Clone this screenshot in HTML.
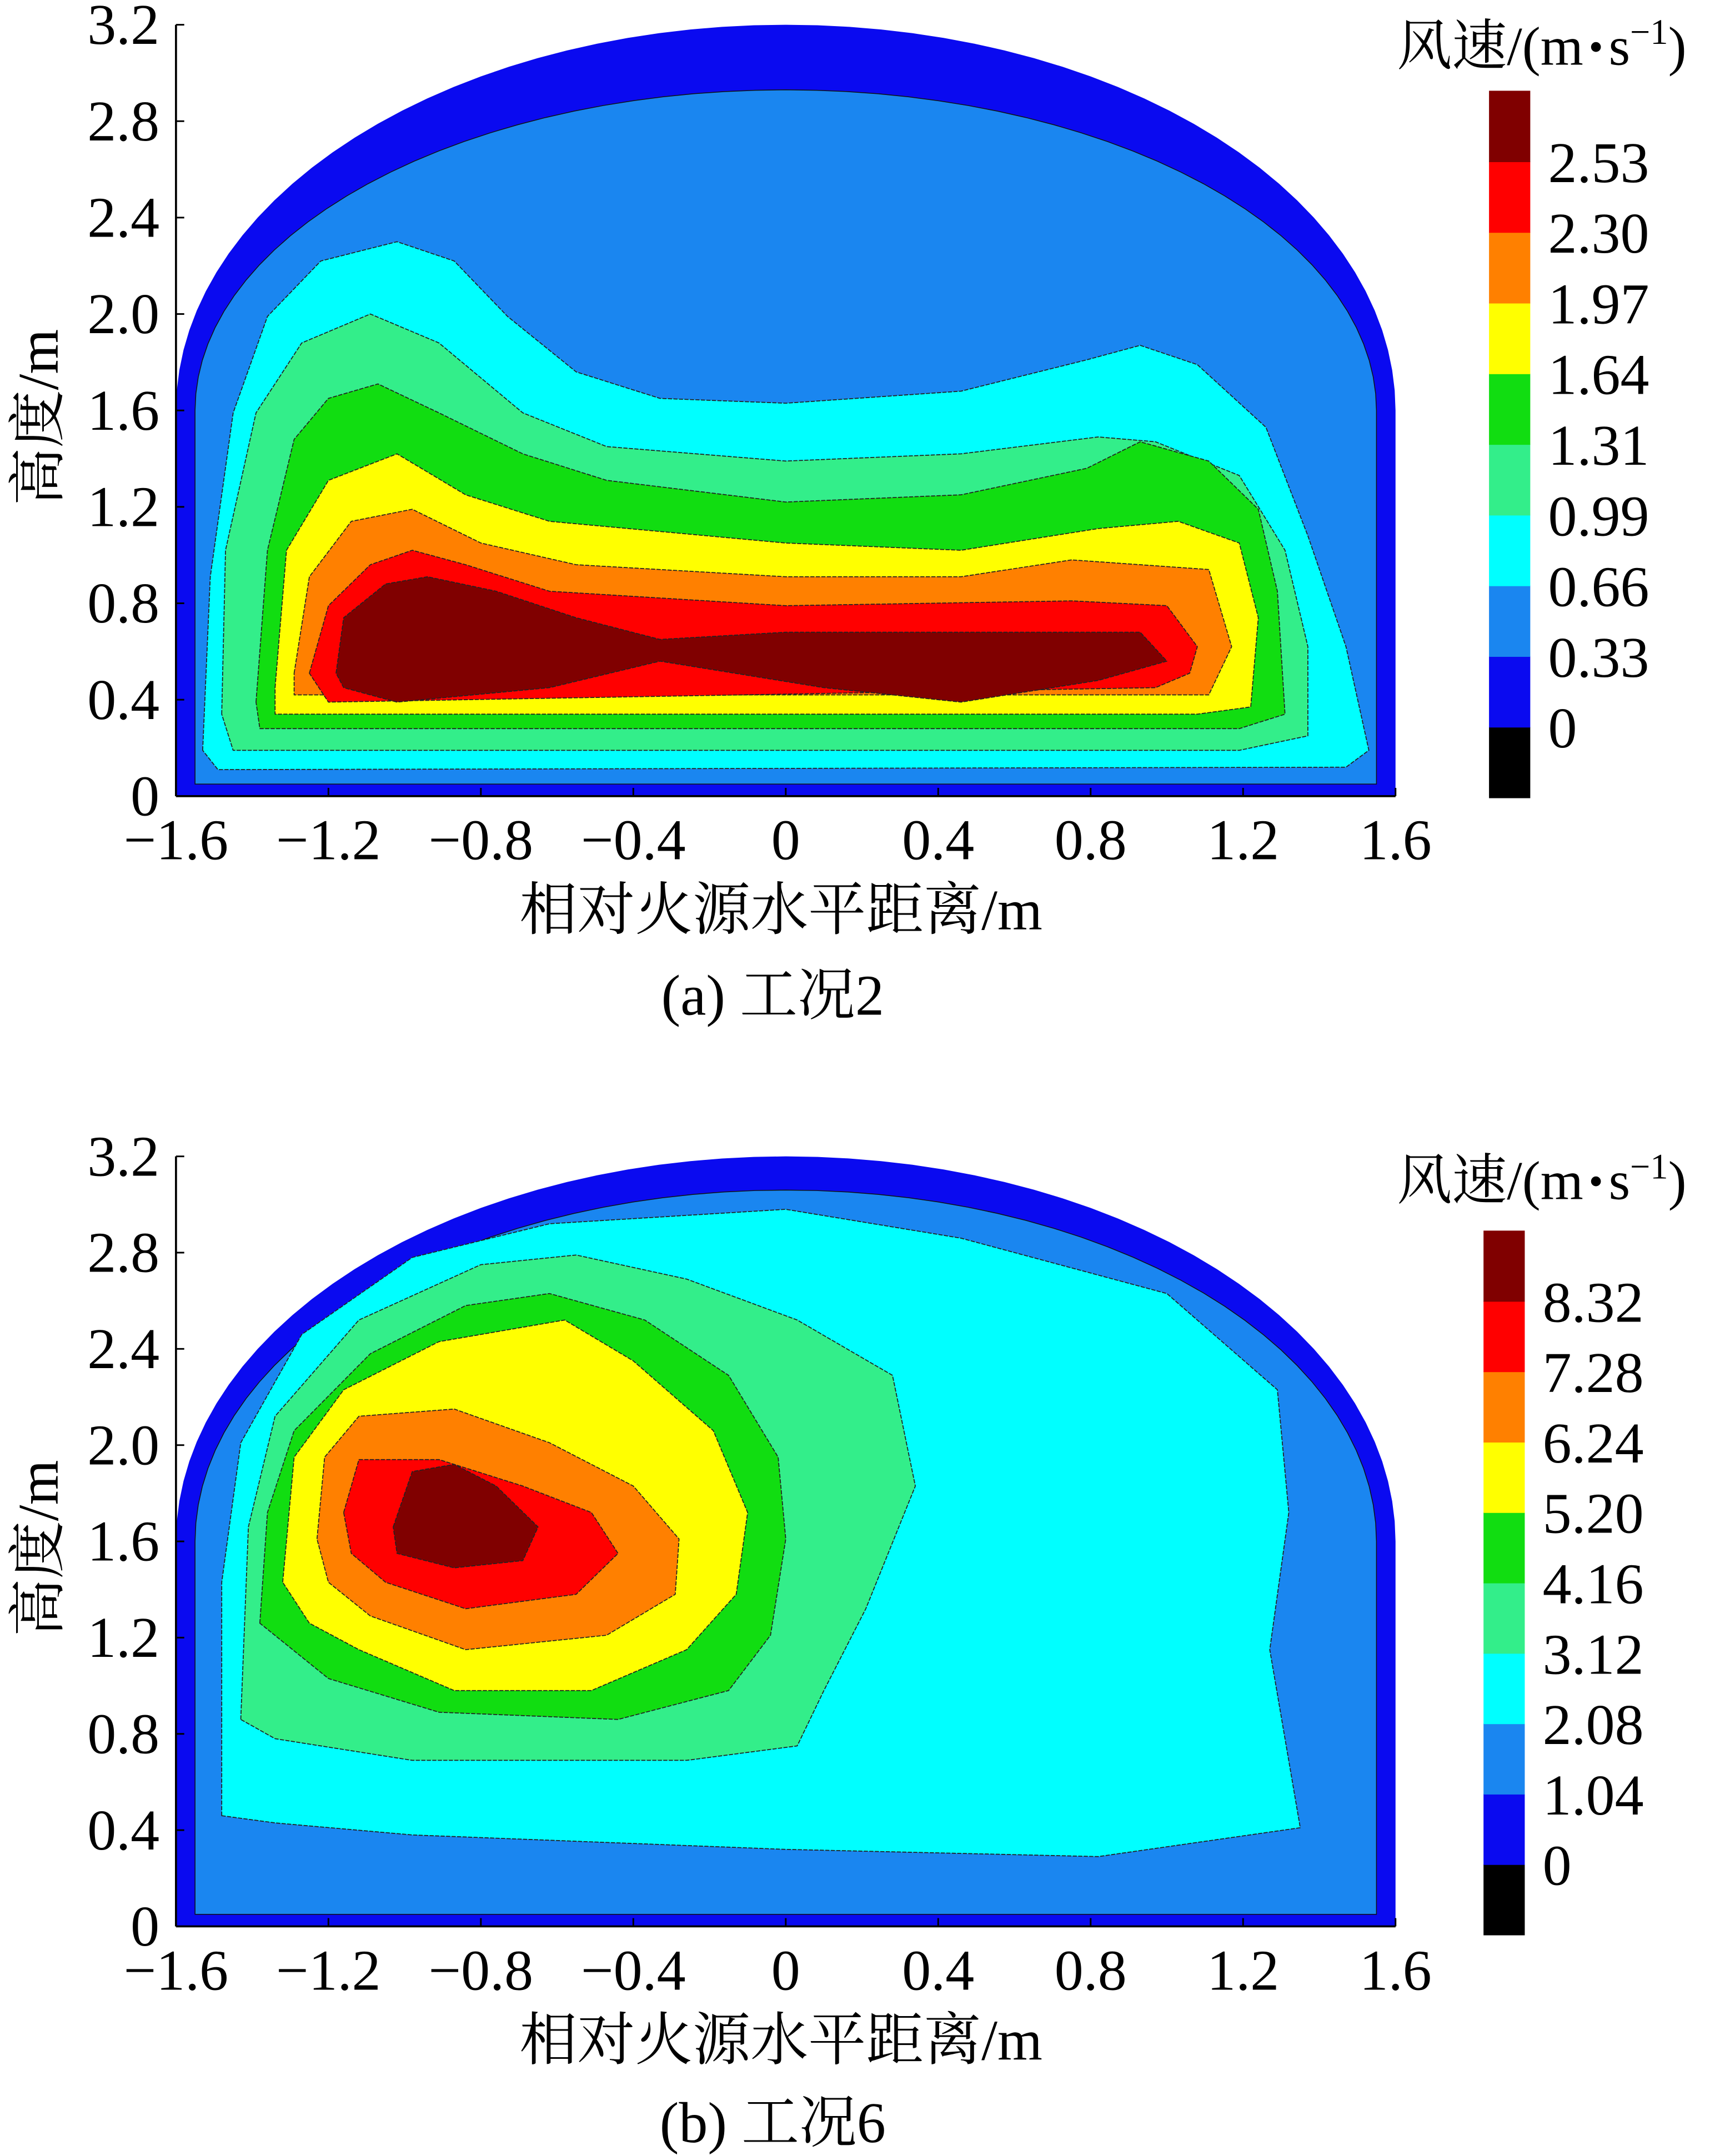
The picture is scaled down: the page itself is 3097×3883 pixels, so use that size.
<!DOCTYPE html>
<html><head><meta charset="utf-8"><style>
html,body{margin:0;padding:0;background:#fff}
svg{display:block}
text{font-family:"Liberation Serif","Noto Serif CJK SC",serif;fill:#000}
</style></head><body>
<svg id="fig" width="3097" height="3883" viewBox="0 0 1251 1568" preserveAspectRatio="none" xmlns="http://www.w3.org/2000/svg"></svg>
<script>
// ---------- data ----------
const xTicks = [-1.6,-1.2,-0.8,-0.4,0,0.4,0.8,1.2,1.6];
const xTickLabels = ["\u22121.6","\u22121.2","\u22120.8","\u22120.4","0","0.4","0.8","1.2","1.6"];
const yTicks = [0,0.4,0.8,1.2,1.6,2.0,2.4,2.8,3.2];
const yTickLabels = ["0","0.4","0.8","1.2","1.6","2.0","2.4","2.8","3.2"];
const colors = ["#000000","#0a0af0","#1a86f0","#00ffff","#33ee8a","#11dd11","#ffff00","#ff8000","#ff0000","#800000"];
const levelsA = ["0","0.33","0.66","0.99","1.31","1.64","1.97","2.30","2.53"];
const levelsB = ["0","1.04","2.08","3.12","4.16","5.20","6.24","7.28","8.32"];
// contour regions, chart (a)
const a_cyan = [[-1.53,0.19],[-1.51,0.91],[-1.45,1.59],[-1.36,1.99],[-1.22,2.22],[-1.02,2.30],[-0.87,2.22],[-0.73,1.99],[-0.55,1.76],[-0.33,1.65],[0,1.63],[0.46,1.68],[0.79,1.81],[0.93,1.87],[1.08,1.79],[1.26,1.53],[1.37,1.08],[1.47,0.62],[1.53,0.19],[1.47,0.12],[-1.49,0.11]];
const a_lgreen = [[-1.48,0.34],[-1.47,1.02],[-1.39,1.59],[-1.27,1.88],[-1.09,2.0],[-0.91,1.88],[-0.69,1.59],[-0.47,1.45],[0,1.39],[0.46,1.42],[0.82,1.49],[0.97,1.47],[1.19,1.33],[1.31,1.02],[1.37,0.62],[1.37,0.25],[1.19,0.19],[-1.45,0.19]];
const a_green = [[-1.39,0.39],[-1.36,1.02],[-1.29,1.48],[-1.20,1.65],[-1.07,1.71],[-0.91,1.59],[-0.69,1.42],[-0.47,1.31],[0,1.22],[0.46,1.25],[0.79,1.36],[0.93,1.47],[1.11,1.39],[1.24,1.19],[1.29,0.85],[1.31,0.34],[1.19,0.28],[-1.38,0.28]];
const a_yellow = [[-1.34,0.45],[-1.31,1.02],[-1.20,1.31],[-1.02,1.42],[-0.84,1.25],[-0.62,1.14],[0,1.05],[0.46,1.02],[0.82,1.11],[1.03,1.14],[1.19,1.05],[1.24,0.74],[1.22,0.37],[1.08,0.34],[-1.34,0.34]];
const a_orange = [[-1.29,0.51],[-1.25,0.91],[-1.14,1.14],[-0.98,1.19],[-0.80,1.05],[-0.55,0.96],[0,0.91],[0.46,0.91],[0.75,0.98],[1.11,0.94],[1.17,0.62],[1.11,0.42],[-1.29,0.42]];
const a_red = [[-1.25,0.51],[-1.20,0.79],[-1.09,0.96],[-0.98,1.02],[-0.84,0.96],[-0.62,0.85],[0,0.79],[0.75,0.81],[1.0,0.79],[1.08,0.62],[1.06,0.51],[0.97,0.45],[-1.20,0.39]];
const a_dred = [[-1.18,0.51],[-1.16,0.74],[-1.05,0.88],[-0.94,0.91],[-0.76,0.85],[-0.55,0.74],[-0.33,0.65],[0,0.68],[0.46,0.68],[0.93,0.68],[1.0,0.56],[0.82,0.48],[0.46,0.39],[0.10,0.45],[-0.33,0.56],[-0.62,0.45],[-1.02,0.39],[-1.16,0.45]];
// chart (b)
const b_cyan = [[-1.48,0.46],[-1.48,1.43],[-1.43,2.01],[-1.27,2.46],[-0.98,2.78],[-0.62,2.92],[0,2.98],[0.46,2.86],[1.0,2.63],[1.29,2.23],[1.32,1.72],[1.27,1.15],[1.35,0.41],[0.82,0.29],[0,0.32],[-0.98,0.38],[-1.34,0.43]];
const b_lgreen = [[-1.43,0.86],[-1.41,1.66],[-1.34,2.12],[-1.12,2.52],[-0.80,2.75],[-0.55,2.79],[-0.26,2.69],[0.03,2.52],[0.28,2.29],[0.34,1.83],[0.21,1.32],[0.10,0.98],[0.03,0.75],[-0.26,0.69],[-0.98,0.69],[-1.34,0.78]];
const b_green = [[-1.38,1.26],[-1.36,1.72],[-1.29,2.06],[-1.09,2.38],[-0.84,2.58],[-0.62,2.63],[-0.37,2.52],[-0.15,2.29],[-0.02,1.95],[0,1.61],[-0.04,1.21],[-0.15,0.98],[-0.44,0.86],[-0.91,0.89],[-1.20,1.03]];
const b_yellow = [[-1.32,1.43],[-1.29,1.95],[-1.16,2.23],[-0.91,2.43],[-0.58,2.52],[-0.40,2.35],[-0.19,2.06],[-0.10,1.72],[-0.13,1.38],[-0.26,1.15],[-0.51,0.98],[-0.87,0.98],[-1.12,1.15],[-1.25,1.26]];
const b_orange = [[-1.23,1.61],[-1.21,1.95],[-1.12,2.12],[-0.87,2.15],[-0.62,2.01],[-0.40,1.83],[-0.28,1.61],[-0.29,1.38],[-0.47,1.21],[-0.84,1.15],[-1.09,1.29],[-1.20,1.43]];
const b_red = [[-1.16,1.72],[-1.12,1.94],[-0.91,1.94],[-0.69,1.83],[-0.51,1.72],[-0.44,1.55],[-0.55,1.38],[-0.84,1.32],[-1.05,1.43],[-1.14,1.55]];
const b_dred = [[-1.03,1.66],[-0.98,1.89],[-0.87,1.92],[-0.76,1.83],[-0.65,1.66],[-0.69,1.52],[-0.87,1.49],[-1.02,1.55]];
const regionsA = [[3,a_cyan],[4,a_lgreen],[5,a_green],[6,a_yellow],[7,a_orange],[8,a_red],[9,a_dred]];
const regionsB = [[3,b_cyan],[4,b_lgreen],[5,b_green],[6,b_yellow],[7,b_orange],[8,b_red],[9,b_dred]];

// ---------- drawing ----------
const NS="http://www.w3.org/2000/svg";
const svg=document.getElementById('fig');
function el(tag,attrs,parent){const e=document.createElementNS(NS,tag);for(const k in attrs)e.setAttribute(k,attrs[k]);(parent||svg).appendChild(e);return e;}
function makeAxes(y0px,y1px){const x0=128,x1=1015;return{sx:v=>x0+(v+1.6)/3.2*(x1-x0),sy:v=>y0px-(v/3.2)*(y0px-y1px),x0,x1,y0px,y1px};}
function polyPath(pts,ax){return 'M'+pts.map(p=>ax.sx(p[0])+','+ax.sy(p[1])).join(' L')+'Z';}
function tunnel(ax,hw,bottom,top){const wall=1.6;let d=`M${ax.sx(-hw)},${ax.sy(bottom)} L${ax.sx(-hw)},${ax.sy(wall)}`;
 for(let i=0;i<=60;i++){const a=Math.PI-i*Math.PI/60;const x=hw*Math.cos(a),y=wall+(top-wall)*Math.sin(a);d+=` L${ax.sx(x)},${ax.sy(y)}`;}
 d+=` L${ax.sx(hw)},${ax.sy(bottom)} Z`;return d;}
function chart(g,ax,regions,midTop,levels,cb,title,caption){
 const outer=el('path',{d:tunnel(ax,1.6,0,3.2),fill:colors[1]},g);
 
 
 const mid=el('path',{d:tunnel(ax,1.55,0.05,midTop),fill:colors[2],stroke:'#111','stroke-width':0.6},g);
 
 
 regions.forEach(([ci,pts])=>{const p=el('path',{d:polyPath(pts,ax),fill:colors[ci],stroke:'#222','stroke-width':0.7,'stroke-dasharray':'3,1','stroke-linejoin':'round'},g);
  
  });
 el('line',{x1:ax.x0,y1:ax.y0px,x2:ax.x0,y2:ax.y1px,stroke:'#000','stroke-width':1.5},g);
 el('line',{x1:ax.x0,y1:ax.y0px,x2:ax.x1,y2:ax.y0px,stroke:'#000','stroke-width':1.5},g);
 xTicks.forEach((v,i)=>{el('line',{x1:ax.sx(v),y1:ax.y0px,x2:ax.sx(v),y2:ax.y0px-6,stroke:'#000','stroke-width':1.2},g);
  const t=el('text',{x:ax.sx(v),y:ax.y0px+46,'font-size':42,'text-anchor':'middle'},g);t.textContent=xTickLabels[i];
  
  });
 yTicks.forEach((v,i)=>{el('line',{x1:ax.x0,y1:ax.sy(v),x2:ax.x0+6,y2:ax.sy(v),stroke:'#000','stroke-width':1.2},g);
  const t=el('text',{x:116,y:ax.sy(v)+14,'font-size':42,'text-anchor':'end'},g);t.textContent=yTickLabels[i];
  
  });
 const yt=el('text',{x:0,y:0,'font-size':42,'text-anchor':'middle',transform:`translate(42,${(ax.y0px+ax.y1px)/2+5}) rotate(-90)`},g);yt.textContent='高度/m';
 
 
 const xt=el('text',{x:568,y:ax.y0px+97,'font-size':42,'text-anchor':'middle'},g);xt.textContent='相对火源水平距离/m';
 
 
 const cap=el('text',{x:562,y:caption[1],'font-size':42,'text-anchor':'middle','xml:space':'preserve'},g);cap.textContent=caption[0];
 
 
 const [cx,cy0,cy1]=cb;const h=(cy1-cy0)/10;
 for(let i=0;i<10;i++){const r=el('rect',{x:cx,y:cy1-(i+1)*h,width:30,height:h+0.5,fill:colors[i]},g);
  
  }
 levels.forEach((s,i)=>{const t=el('text',{x:cx+43,y:cy1-(i+1)*h+15,'font-size':42},g);t.textContent=s;
  
  });
 const ct=el('text',{x:1016,y:title,'font-size':40},g);
 ct.innerHTML='风速/(m<tspan font-size="30" dx="4" dy="-3">\u2022</tspan><tspan dx="4" dy="3">s</tspan><tspan font-size="26" dy="-15">\u22121</tspan><tspan dy="15">)</tspan>';
 
 
}
const gA=el('g',{});


chart(gA,makeAxes(579,18),regionsA,2.93,levelsA,[1083,66,580],47,['(a)  工况2',738]);
const gB=el('g',{});


chart(gB,makeAxes(1401,841),regionsB,3.06,levelsB,[1079,895,1407],872,['(b)  工况6',1558]);
</script>
</body></html>
